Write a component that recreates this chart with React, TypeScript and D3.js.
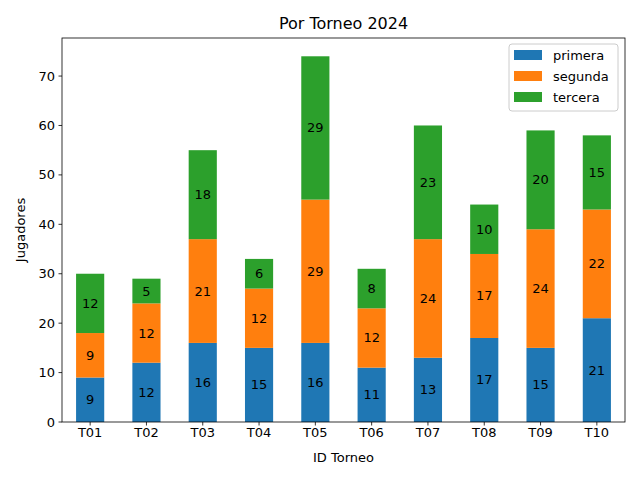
import React from "react";
import * as d3 from "d3";

const categories = ["T01", "T02", "T03", "T04", "T05", "T06", "T07", "T08", "T09", "T10"];
const primera = [9, 12, 16, 15, 16, 11, 13, 17, 15, 21];
const segunda = [9, 12, 21, 12, 29, 12, 24, 17, 24, 22];
const tercera = [12, 5, 18, 6, 29, 8, 23, 10, 20, 15];
const seriesNames = ["primera", "segunda", "tercera"];
const colors = ["#1f77b4", "#ff7f0e", "#2ca02c"];
const yTicks = [0, 10, 20, 30, 40, 50, 60, 70];

export default function App() {
  const W = 640, H = 480;
  const left = 62, right = 625, top = 38, bottom = 422;
  const series = [primera, segunda, tercera];
  const totals = categories.map((_, i) => primera[i] + segunda[i] + tercera[i]);
  const ymax = d3.max(totals)! * 1.05;
  const y = d3.scaleLinear().domain([0, ymax]).range([bottom, top]);
  const x = d3.scaleLinear().domain([-0.5, categories.length - 0.5]).range([left, right]);
  const bw = x(0.25) - x(0);
  const font = "DejaVu Sans, sans-serif";

  const rects: JSX.Element[] = [];
  const labels: JSX.Element[] = [];
  categories.forEach((c, i) => {
    let base = 0;
    series.forEach((s, k) => {
      const v = s[i];
      const y0 = y(base), y1 = y(base + v);
      rects.push(
        <rect key={`r${i}-${k}`} x={x(i) - bw} width={bw * 2} y={y1} height={y0 - y1} fill={colors[k]} />
      );
      labels.push(
        <text key={`t${i}-${k}`} x={x(i)} y={(y0 + y1) / 2} textAnchor="middle" dominantBaseline="central" fontSize={13} fontFamily={font} fill="#000">
          {v}
        </text>
      );
      base += v;
    });
  });

  return (
    <svg width={W} height={H} style={{ position: "absolute", left: 0, top: 0, background: "#fff" }}>
      <rect x={0} y={0} width={W} height={H} fill="#fff" />
      {rects}
      {labels}
      <rect x={left} y={top} width={right - left} height={bottom - top} fill="none" stroke="#000" strokeWidth={0.8} />
      {yTicks.map((t) => (
        <g key={t}>
          <line x1={left - 3.5} x2={left} y1={y(t)} y2={y(t)} stroke="#000" strokeWidth={0.8} />
          <text x={left - 7} y={y(t)} textAnchor="end" dominantBaseline="central" fontSize={13} fontFamily={font}>{t}</text>
        </g>
      ))}
      {categories.map((c, i) => (
        <g key={c}>
          <line x1={x(i)} x2={x(i)} y1={bottom} y2={bottom + 3.5} stroke="#000" strokeWidth={0.8} />
          <text x={x(i)} y={bottom + 15} textAnchor="middle" fontSize={13} fontFamily={font}>{c}</text>
        </g>
      ))}
      <text x={(left + right) / 2} y={462} textAnchor="middle" fontSize={13} fontFamily={font}>ID Torneo</text>
      <text transform={`translate(25,${(top + bottom) / 2}) rotate(-90)`} textAnchor="middle" fontSize={13} fontFamily={font}>Jugadores</text>
      <text x={(left + right) / 2} y={29} textAnchor="middle" fontSize={16} fontFamily={font}>Por Torneo 2024</text>
      <g>
        <rect x={509} y={44} width={109} height={67} rx={3} fill="#fff" fillOpacity={0.8} stroke="#ccc" strokeWidth={1} />
        {seriesNames.map((n, k) => (
          <g key={n}>
            <rect x={514} y={50 + k * 21} width={28} height={10} fill={colors[k]} />
            <text x={553} y={55 + k * 21} dominantBaseline="central" fontSize={13} fontFamily={font}>{n}</text>
          </g>
        ))}
      </g>
    </svg>
  );
}
